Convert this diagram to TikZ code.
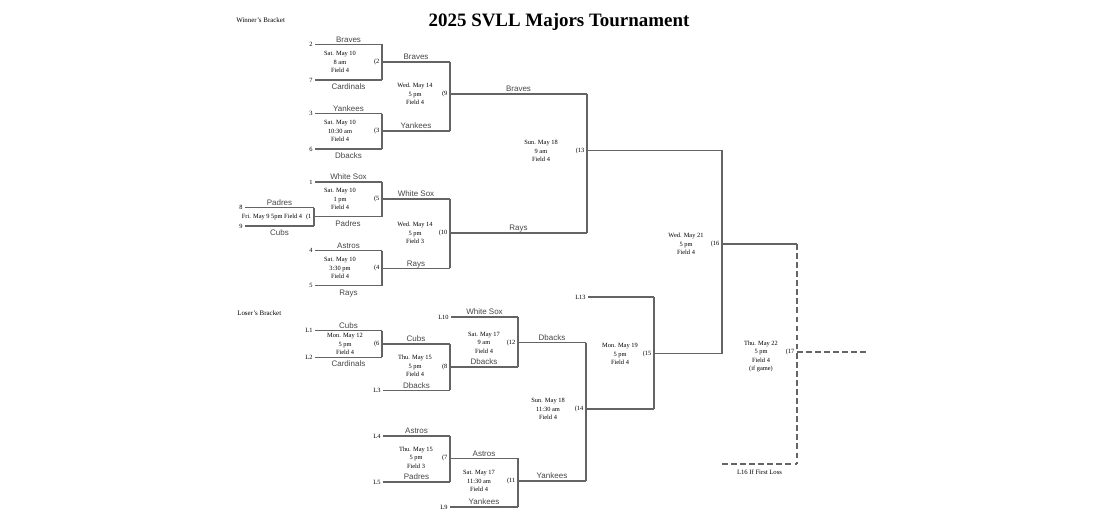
\documentclass[tikz,border=0pt]{standalone}
\usepackage{fontspec}
\setmainfont{Liberation Serif}
\newfontfamily\teamFont{Liberation Sans}
\tikzstyle{bracket} = [x = .75pt, y = -.75pt]
\definecolor{lineColor}{RGB}{100,100,100}
\definecolor{teamColor}{RGB}{70,70,70}
\tikzstyle{bracketLine} = [color=lineColor, line width=1pt]
\tikzstyle{loserLine} = [bracketLine, dash pattern=on 4.3pt off 2.5pt]
\tikzstyle{teamText} = [midway, anchor=base, inner sep=0pt, text=teamColor, font=\teamFont\fontsize{6}{7}\selectfont]
\tikzstyle{teamAbove} = [teamText, yshift=1.6pt]
\tikzstyle{teamBelow} = [teamText, yshift=-7.2pt]
\tikzstyle{seedText} = [anchor=east, inner sep=1.6pt, font=\fontsize{4.8}{5}\selectfont]
\tikzstyle{gameText} = [align=center, inner sep=0pt, font=\fontsize{4.8}{6.3}\selectfont]
\tikzstyle{gameNumber} = [anchor=east, inner sep=0pt, xshift=-1.8pt, font=\fontsize{4.8}{5}\selectfont]
\tikzstyle{bracketLabel} = [anchor=west, inner sep=0pt, font=\fontsize{5.2}{6}\selectfont]
\tikzstyle{titleText} = [anchor=base, inner sep=0pt, font=\fontsize{14.2}{16}\bfseries]
\tikzstyle{lossNote} = [midway, anchor=base, inner sep=0pt, yshift=-8pt, text=black, font=\fontsize{5}{6}\selectfont]
\newcommand{\bracketGame}[8][bracketLine]{
  \coordinate (g#2-t) at (#3,#4);
  \coordinate (g#2-b) at (#3,#5);
  \coordinate (g#2) at (#3,#6);
  \draw [#1] (g#2-t) -- (g#2-b);
  \node [gameNumber] (n#2) at (g#2) {(#2};
  \node [gameText] (t#2) at (#7) {#8};
}

\begin{document}
\begin{tikzpicture}[bracket]
  \useasboundingbox (0,0) rectangle (1110,520);
  \node [titleText] (title) at (559,27) {2025 SVLL Majors Tournament};
  \node [bracketLabel] (winners) at (236,20) {Winner's Bracket};
  \node [bracketLabel] (losers) at (237,313) {Loser's Bracket};

  \bracketGame{1}{314}{207.7}{226}{216.7}{272,216.7}{Fri. May 9 5pm Field 4}
  \bracketGame{2}{382}{44.3}{80}{62}{340,62}{Sat. May 10\\8 am\\Field 4}
  \bracketGame{3}{382}{113.7}{149}{131}{340,131}{Sat. May 10\\10:30 am\\Field 4}
  \bracketGame{5}{382}{182}{216.7}{199}{340,199}{Sat. May 10\\1 pm\\Field 4}
  \bracketGame{4}{382}{250.7}{285.7}{268.3}{340,268.3}{Sat. May 10\\3:30 pm\\Field 4}
  \bracketGame{9}{450}{62}{131}{94}{415,94}{Wed. May 14\\5 pm\\Field 4}
  \bracketGame{10}{450}{199}{268.3}{233}{415,233}{Wed. May 14\\5 pm\\Field 3}
  \bracketGame{13}{587}{94}{233}{150.5}{541,151}{Sun. May 18\\9 am\\Field 4}
  \bracketGame{16}{722}{150.5}{353.7}{244}{686,244}{Wed. May 21\\5 pm\\Field 4}
  \bracketGame{6}{382}{330.7}{357.3}{344}{345,344}{Mon. May 12\\5 pm\\Field 4}
  \bracketGame{8}{450}{344}{390.3}{367}{415,366}{Thu. May 15\\5 pm\\Field 4}
  \bracketGame{12}{518}{317}{367}{342.7}{484,342.7}{Sat. May 17\\9 am\\Field 4}
  \bracketGame{7}{450}{436}{482}{458.3}{416,457.5}{Thu. May 15\\5 pm\\Field 3}
  \bracketGame{11}{518}{458.3}{507}{481}{479,481}{Sat. May 17\\11:30 am\\Field 4}
  \bracketGame{14}{586}{342.7}{481}{409}{548,409}{Sun. May 18\\11:30 am\\Field 4}
  \bracketGame{15}{654}{297}{409}{353.7}{620,354}{Mon. May 19\\5 pm\\Field 4}
  \bracketGame[loserLine]{17}{797}{244}{464}{352}{761,356.5}{Thu. May 22\\5 pm\\Field 4\\(if game)}

  \node [seedText] (s2) at (315,44.3) {2};
  \node [seedText] (s7) at (315,80) {7};
  \node [seedText] (s3) at (315,113.7) {3};
  \node [seedText] (s6) at (315,149) {6};
  \node [seedText] (s1) at (315,182) {1};
  \node [seedText] (s8) at (245,207.7) {8};
  \node [seedText] (s9) at (245,226) {9};
  \node [seedText] (s4) at (315,250.7) {4};
  \node [seedText] (s5) at (315,285.7) {5};
  \draw [bracketLine] (s2.east) -- (g2-t) node [teamAbove] {Braves};
  \draw [bracketLine] (s7.east) -- (g2-b) node [teamBelow] {Cardinals};
  \draw [bracketLine] (s3.east) -- (g3-t) node [teamAbove] {Yankees};
  \draw [bracketLine] (s6.east) -- (g3-b) node [teamBelow] {Dbacks};
  \draw [bracketLine] (s1.east) -- (g5-t) node [teamAbove] {White Sox};
  \draw [bracketLine] (g1) -- (g5-b) node [teamBelow] {Padres};
  \draw [bracketLine] (s8.east) -- (g1-t) node [teamAbove] {Padres};
  \draw [bracketLine] (s9.east) -- (g1-b) node [teamBelow] {Cubs};
  \draw [bracketLine] (s4.east) -- (g4-t) node [teamAbove] {Astros};
  \draw [bracketLine] (s5.east) -- (g4-b) node [teamBelow] {Rays};
  \draw [bracketLine] (g2) -- (g9-t) node [teamAbove] {Braves};
  \draw [bracketLine] (g3) -- (g9-b) node [teamAbove] {Yankees};
  \draw [bracketLine] (g5) -- (g10-t) node [teamAbove] {White Sox};
  \draw [bracketLine] (g4) -- (g10-b) node [teamAbove] {Rays};
  \draw [bracketLine] (g9) -- (g13-t) node [teamAbove] {Braves};
  \draw [bracketLine] (g10) -- (g13-b) node [teamAbove] {Rays};
  \draw [bracketLine] (g13) -- (g16-t);
  \draw [bracketLine] (g15) -- (g16-b);
  \draw [bracketLine] (g16) -- (g17-t);

  \node [seedText] (l1) at (315,330.7) {L1};
  \node [seedText] (l2) at (315,357.3) {L2};
  \node [seedText] (l3) at (383,390.3) {L3};
  \node [seedText] (l10) at (451,317) {L10};
  \node [seedText] (l4) at (383,436) {L4};
  \node [seedText] (l5) at (383,482) {L5};
  \node [seedText] (l9) at (450,507) {L9};
  \node [seedText] (l13) at (588,297) {L13};
  \coordinate (l16) at (722,464);
  \coordinate (champ) at (866,352);
  \draw [bracketLine] (l1.east) -- (g6-t) node [teamAbove] {Cubs};
  \draw [bracketLine] (l2.east) -- (g6-b) node [teamBelow] {Cardinals};
  \draw [bracketLine] (g6) -- (g8-t) node [teamAbove] {Cubs};
  \draw [bracketLine] (l3.east) -- (g8-b) node [teamAbove] {Dbacks};
  \draw [bracketLine] (l10.east) -- (g12-t) node [teamAbove] {White Sox};
  \draw [bracketLine] (g8) -- (g12-b) node [teamAbove] {Dbacks};
  \draw [bracketLine] (l4.east) -- (g7-t) node [teamAbove] {Astros};
  \draw [bracketLine] (l5.east) -- (g7-b) node [teamAbove] {Padres};
  \draw [bracketLine] (g7) -- (g11-t) node [teamAbove] {Astros};
  \draw [bracketLine] (l9.east) -- (g11-b) node [teamAbove] {Yankees};
  \draw [bracketLine] (g12) -- (g14-t) node [teamAbove] {Dbacks};
  \draw [bracketLine] (g11) -- (g14-b) node [teamAbove] {Yankees};
  \draw [bracketLine] (l13.east) -- (g15-t);
  \draw [bracketLine] (g14) -- (g15-b);
  \draw [loserLine] (l16) -- (g17-b) node [lossNote] {L16 If First Loss};
  \draw [loserLine] (g17) -- (champ);
\end{tikzpicture}
\end{document}
